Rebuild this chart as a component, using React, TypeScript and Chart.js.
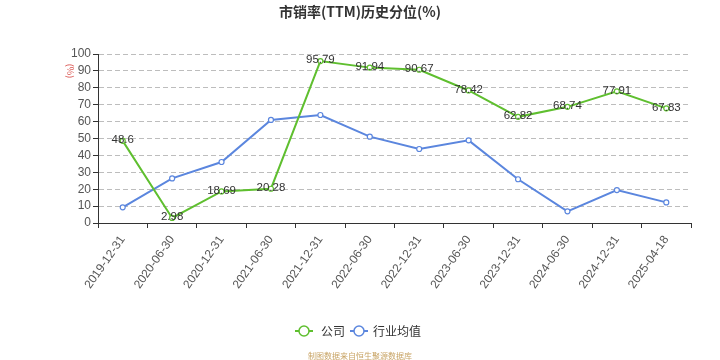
import React, { useEffect, useRef } from "react";
import { Chart, registerables } from "chart.js";

Chart.register(...registerables);

const categories = [
  "2019-12-31", "2020-06-30", "2020-12-31", "2021-06-30", "2021-12-31", "2022-06-30",
  "2022-12-31", "2023-06-30", "2023-12-31", "2024-06-30", "2024-12-31", "2025-04-18",
];
const companyValues = [48.6, 2.98, 18.69, 20.28, 95.79, 91.94, 90.67, 78.42, 62.82, 68.74, 77.91, 67.83];
const industryValues = [9.3, 26.4, 36.1, 61.0, 63.9, 51.1, 43.8, 48.9, 25.9, 6.9, 19.5, 12.2];
const yTicks = [0, 10, 20, 30, 40, 50, 60, 70, 80, 90, 100];

const GREEN = "#5fbf2f";
const BLUE = "#5b86de";
const FONT = "'Liberation Sans', 'Noto Sans CJK SC', sans-serif";
const CJK = "'Noto Sans CJK SC', sans-serif";

const decorPlugin = {
  id: "decor",
  afterDatasetsDraw(chart: any) {
    const ctx = chart.ctx;
    const meta = chart.getDatasetMeta(0);
    ctx.save();
    ctx.font = `11.5px ${FONT}`;
    ctx.fillStyle = "#333";
    ctx.textAlign = "center";
    ctx.textBaseline = "middle";
    meta.data.forEach((pt: any, i: number) => {
      ctx.fillText(String(companyValues[i]), pt.x, pt.y - 1);
    });
    ctx.restore();
  },
  afterDraw(chart: any) {
    const ctx = chart.ctx;
    ctx.save();
    ctx.font = `bold 14px ${CJK}`;
    ctx.fillStyle = "#333";
    ctx.textAlign = "center";
    ctx.textBaseline = "middle";
    ctx.fillText("市销率(TTM)历史分位(%)", 360, 12);
    ctx.save();
    ctx.translate(70, 71);
    ctx.rotate(Math.PI / 2);
    ctx.font = `9px ${CJK}`;
    ctx.fillStyle = "#d9534f";
    ctx.fillText("(%)", 0, 0);
    ctx.restore();
    const drawIcon = (cx: number, color: string) => {
      ctx.strokeStyle = color;
      ctx.lineWidth = 2;
      ctx.beginPath();
      ctx.moveTo(cx - 9, 331);
      ctx.lineTo(cx + 9, 331);
      ctx.stroke();
      ctx.beginPath();
      ctx.arc(cx, 331, 5, 0, Math.PI * 2);
      ctx.fillStyle = "#fff";
      ctx.fill();
      ctx.lineWidth = 1.5;
      ctx.stroke();
    };
    drawIcon(304, GREEN);
    drawIcon(359, BLUE);
    ctx.font = `12px ${CJK}`;
    ctx.fillStyle = "#333";
    ctx.textAlign = "left";
    ctx.fillText("公司", 321, 331);
    ctx.fillText("行业均值", 373, 331);
    ctx.font = `8px ${CJK}`;
    ctx.fillStyle = "#c8a465";
    ctx.textAlign = "center";
    ctx.fillText("制图数据来自恒生聚源数据库", 360, 356);
    ctx.restore();
  },
};

export default function App() {
  const ref = useRef<HTMLCanvasElement>(null);
  useEffect(() => {
    document.body.style.margin = "0";
    const chart = new Chart(ref.current!, {
      type: "line",
      data: {
        labels: categories,
        datasets: [
          {
            label: "公司",
            data: companyValues,
            borderColor: GREEN,
            backgroundColor: "#fff",
            borderWidth: 2,
            pointRadius: 2.5,
            pointBorderWidth: 1.2,
            pointBackgroundColor: "#fff",
            pointBorderColor: GREEN,
            tension: 0,
          },
          {
            label: "行业均值",
            data: industryValues,
            borderColor: BLUE,
            backgroundColor: "#fff",
            borderWidth: 2,
            pointRadius: 2.5,
            pointBorderWidth: 1.2,
            pointBackgroundColor: "#fff",
            pointBorderColor: BLUE,
            tension: 0,
          },
        ],
      },
      options: {
        animation: false,
        responsive: false,
        layout: { padding: { top: 54, left: 0, right: 29, bottom: 0 } },
        plugins: {
          legend: { display: false },
          title: { display: false },
          tooltip: { enabled: false },
        },
        scales: {
          x: {
            offset: true,
            grid: {
              offset: true,
              drawOnChartArea: false,
              drawTicks: true,
              tickLength: 5,
              color: "#333",
            },
            border: { display: true, color: "#333", width: 1 },
            ticks: {
              font: { size: 12, family: FONT },
              color: "#555",
              minRotation: 55,
              maxRotation: 55,
              autoSkip: false,
              padding: 5,
            },
            afterFit: (s: any) => {
              s.height = 137;
            },
          },
          y: {
            min: 0,
            max: 100,
            afterBuildTicks: (s: any) => {
              s.ticks = yTicks.map((v) => ({ value: v }));
            },
            grid: {
              color: "#bdbdbd",
              lineWidth: 1,
              drawTicks: true,
              tickLength: 5,
              tickColor: "#333",
            },
            border: { display: true, color: "#333", width: 1, dash: [5, 3] },
            ticks: {
              font: { size: 12, family: FONT },
              color: "#555",
              padding: 2,
              autoSkip: false,
            },
            afterFit: (s: any) => {
              s.width = 98;
            },
          },
        },
      },
      plugins: [decorPlugin],
    });
    return () => chart.destroy();
  }, []);
  return (
    <div style={{ width: 720, height: 360 }}>
      <canvas ref={ref} width={720} height={360} style={{ display: "block" }} />
    </div>
  );
}
